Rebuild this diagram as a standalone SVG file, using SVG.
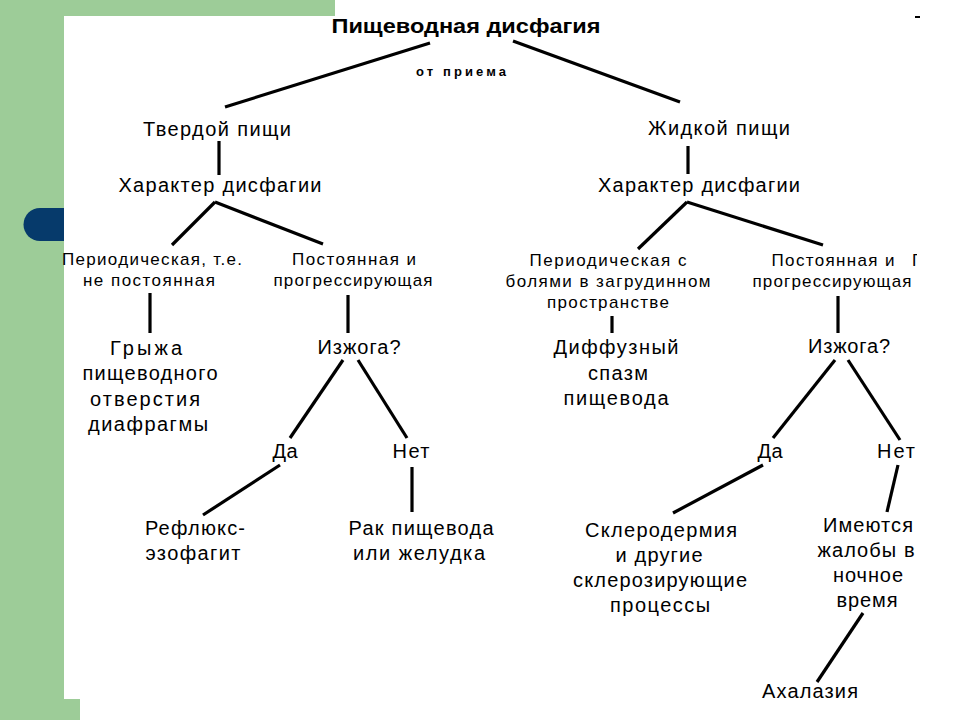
<svg xmlns="http://www.w3.org/2000/svg" width="960" height="720" viewBox="0 0 960 720">
<defs>
<style>
text{font-family:"Liberation Sans",Arial,sans-serif;fill:#000;text-anchor:middle}
.t{font-size:20px;font-weight:bold}
.s{font-size:13px;font-weight:bold}
.m{font-size:20px}
.n{font-size:17px}
.c line{stroke:#000;stroke-width:3.2;stroke-linecap:butt}
</style>
<clipPath id="edge"><rect x="880" y="240" width="37" height="60"/></clipPath>
</defs>
<rect width="960" height="720" fill="#fff"/>
<g id="background">
<rect x="0" y="0" width="335" height="16" fill="#9dcc98"/>
<rect x="0" y="0" width="64" height="720" fill="#9dcc98"/>
<rect x="0" y="699" width="80" height="21" fill="#9dcc98"/>
<path d="M64,208 H40 A16,16 0 0 0 40,241 H64 Z" fill="#063a6b"/>
<rect x="915" y="16" width="5" height="2" fill="#000"/>
</g>
<g class="c" id="connectors">
<line x1="430" y1="43" x2="225" y2="107"/>
<line x1="513" y1="41" x2="680" y2="102"/>
<line x1="219" y1="141" x2="219" y2="175"/>
<line x1="688" y1="146" x2="688" y2="174"/>
<line x1="215" y1="202" x2="172" y2="245"/>
<line x1="215" y1="202" x2="323" y2="244"/>
<line x1="687" y1="202" x2="638" y2="249"/>
<line x1="687" y1="202" x2="823" y2="245"/>
<line x1="150" y1="293" x2="150" y2="333"/>
<line x1="348" y1="295" x2="348" y2="333"/>
<line x1="612" y1="316" x2="612" y2="333"/>
<line x1="838" y1="296" x2="838" y2="333"/>
<line x1="343" y1="360" x2="290" y2="438"/>
<line x1="358" y1="360" x2="407" y2="438"/>
<line x1="835" y1="360" x2="773" y2="438"/>
<line x1="848" y1="360" x2="900" y2="440"/>
<line x1="280" y1="465" x2="203" y2="515"/>
<line x1="412" y1="467" x2="412" y2="512"/>
<line x1="763" y1="465" x2="673" y2="513"/>
<line x1="898" y1="465" x2="887" y2="512"/>
<line x1="863" y1="613" x2="817" y2="682"/>
</g>
<g id="n-root">
<text class="t" x="466" y="33" textLength="269" lengthAdjust="spacingAndGlyphs">Пищеводная дисфагия</text>
<text class="s" x="461" y="76" textLength="90" lengthAdjust="spacing">от приема</text>
</g>
<g id="n-solid"><text class="m" x="217" y="136" textLength="148" lengthAdjust="spacing">Твердой пищи</text></g>
<g id="n-liquid"><text class="m" x="719" y="135" textLength="142" lengthAdjust="spacing">Жидкой пищи</text></g>
<g id="n-char-left"><text class="m" x="220" y="192" textLength="203" lengthAdjust="spacing">Характер дисфагии</text></g>
<g id="n-char-right"><text class="m" x="699" y="192" textLength="202" lengthAdjust="spacing">Характер дисфагии</text></g>
<g id="n-periodic-left" class="n">
<text x="152" y="265" textLength="180" lengthAdjust="spacing">Периодическая, т.е.</text>
<text x="149" y="286" textLength="132" lengthAdjust="spacing">не постоянная</text>
</g>
<g id="n-const-left" class="n">
<text x="354" y="265" textLength="124" lengthAdjust="spacing">Постоянная и</text>
<text x="353" y="286" textLength="159" lengthAdjust="spacing">прогрессирующая</text>
</g>
<g id="n-periodic-right" class="n">
<text x="608" y="266" textLength="157" lengthAdjust="spacing">Периодическая с</text>
<text x="608" y="287" textLength="205" lengthAdjust="spacing">болями в загрудинном</text>
<text x="608" y="308" textLength="122" lengthAdjust="spacing">пространстве</text>
</g>
<g id="n-const-right" class="n">
<text x="833" y="266" textLength="123" lengthAdjust="spacing">Постоянная и</text>
<text x="832" y="287" textLength="159" lengthAdjust="spacing">прогрессирующая</text>
<text x="912" y="266" style="text-anchor:start" clip-path="url(#edge)">П</text>
</g>
<g id="n-hernia" class="m">
<text x="146" y="355" textLength="72" lengthAdjust="spacing">Грыжа</text>
<text x="150" y="380" textLength="135" lengthAdjust="spacing">пищеводного</text>
<text x="145" y="406" textLength="110" lengthAdjust="spacing">отверстия</text>
<text x="148" y="431" textLength="120" lengthAdjust="spacing">диафрагмы</text>
</g>
<g id="n-heart-left"><text class="m" x="359" y="354" textLength="83" lengthAdjust="spacing">Изжога?</text></g>
<g id="n-spasm" class="m">
<text x="616" y="354" textLength="125" lengthAdjust="spacing">Диффузный</text>
<text x="618" y="380" textLength="60" lengthAdjust="spacing">спазм</text>
<text x="616" y="405" textLength="105" lengthAdjust="spacing">пищевода</text>
</g>
<g id="n-heart-right"><text class="m" x="849" y="353" textLength="82" lengthAdjust="spacing">Изжога?</text></g>
<g id="n-yes-left"><text class="m" x="285" y="458" textLength="25" lengthAdjust="spacing">Да</text></g>
<g id="n-no-left"><text class="m" x="411" y="458" textLength="37" lengthAdjust="spacing">Нет</text></g>
<g id="n-yes-right"><text class="m" x="770" y="458" textLength="25" lengthAdjust="spacing">Да</text></g>
<g id="n-no-right"><text class="m" x="896" y="458" textLength="38" lengthAdjust="spacing">Нет</text></g>
<g id="n-reflux" class="m">
<text x="195" y="535" textLength="100" lengthAdjust="spacing">Рефлюкс-</text>
<text x="193" y="560" textLength="95" lengthAdjust="spacing">эзофагит</text>
</g>
<g id="n-cancer" class="m">
<text x="421" y="535" textLength="145" lengthAdjust="spacing">Рак пищевода</text>
<text x="419" y="560" textLength="132" lengthAdjust="spacing">или желудка</text>
</g>
<g id="n-scleroderma" class="m">
<text x="661" y="537" textLength="152" lengthAdjust="spacing">Склеродермия</text>
<text x="659" y="562" textLength="87" lengthAdjust="spacing">и другие</text>
<text x="660" y="587" textLength="174" lengthAdjust="spacing">склерозирующие</text>
<text x="660" y="612" textLength="100" lengthAdjust="spacing">процессы</text>
</g>
<g id="n-night" class="m">
<text x="868" y="532" textLength="90" lengthAdjust="spacing">Имеются</text>
<text x="866" y="557" textLength="97" lengthAdjust="spacing">жалобы в</text>
<text x="868" y="582" textLength="70" lengthAdjust="spacing">ночное</text>
<text x="867" y="607" textLength="61" lengthAdjust="spacing">время</text>
</g>
<g id="n-achalasia"><text class="m" x="810" y="698" textLength="96" lengthAdjust="spacing">Ахалазия</text></g>
</svg>
